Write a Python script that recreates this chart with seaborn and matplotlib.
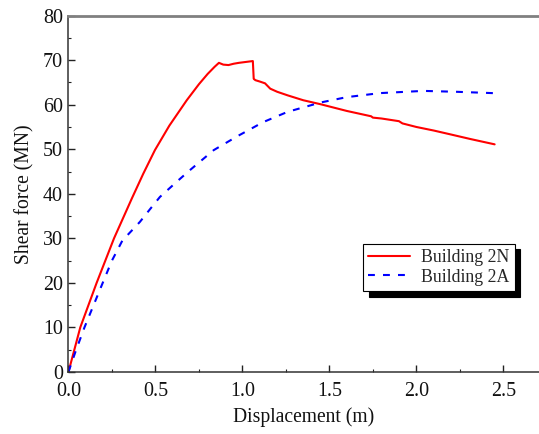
import numpy as np
import pandas as pd
import matplotlib
matplotlib.use('Agg')
import matplotlib.pyplot as plt
import seaborn as sns
from matplotlib.ticker import MultipleLocator, FormatStrFormatter

# ---------------- data ----------------
disp_2n = [0, 0.068, 0.162, 0.262, 0.365, 0.43, 0.497, 0.58, 0.68, 0.75,
           0.80, 0.84, 0.865, 0.89, 0.92, 0.95, 0.98, 1.02, 1.06, 1.065, 1.075,
           1.10, 1.13, 1.16, 1.20, 1.26, 1.35, 1.45, 1.60, 1.74, 1.75, 1.80,
           1.90, 1.92, 2.00, 2.10, 2.20, 2.31, 2.45]
force_2n = [0, 10, 20, 30, 39.0, 44.5, 49.8, 55.3, 61.0, 64.6,
            66.9, 68.5, 69.4, 69.0, 68.9, 69.2, 69.4, 69.6, 69.8, 65.8, 65.5,
            65.2, 64.8, 63.6, 62.9, 62.1, 61.0, 60.1, 58.6, 57.4, 57.1, 56.9,
            56.3, 55.8, 55.0, 54.2, 53.3, 52.3, 51.1]

disp_2a = [0, 0.04, 0.092, 0.197, 0.25, 0.31, 0.363, 0.411, 0.468, 0.526,
           0.631, 0.698, 0.835, 0.97, 1.12, 1.26, 1.45, 1.60, 1.79, 2.04,
           2.23, 2.44]
force_2a = [0, 4.5, 10, 20, 25, 29.5, 31.7, 33.7, 36.5, 39.3,
            43.0, 45.3, 49.8, 52.9, 56.1, 58.4, 60.5, 61.7, 62.6, 63.1,
            62.9, 62.6]

labels = ['Building 2N', 'Building 2A']

df = pd.concat([
    pd.DataFrame({'disp': disp_2n, 'force': force_2n, 'building': labels[0]}),
    pd.DataFrame({'disp': disp_2a, 'force': force_2a, 'building': labels[1]}),
], ignore_index=True)

# ---------------- plotting ----------------
sns.set_style('ticks')
plt.rcParams['font.family'] = ['Liberation Serif', 'DejaVu Serif']

fig = plt.figure(figsize=(5.39, 4.34), dpi=100)
ax = fig.add_axes([0.127, 0.143, 0.873, 0.821])

palette = {labels[0]: '#ff0000', labels[1]: '#0000ff'}
dashes = {labels[0]: '', labels[1]: (3.3, 3.9)}

sns.lineplot(data=df, x='disp', y='force', hue='building', style='building',
             palette=palette, dashes=dashes, estimator=None, sort=False,
             linewidth=1.5, ax=ax)

# format axes
ax.set_xlim(0, 2.705)
ax.set_ylim(0, 80)
ax.xaxis.set_major_locator(MultipleLocator(0.5))
ax.xaxis.set_minor_locator(MultipleLocator(0.25))
ax.yaxis.set_major_locator(MultipleLocator(10))
ax.yaxis.set_minor_locator(MultipleLocator(5))
ax.xaxis.set_major_formatter(FormatStrFormatter('%.1f'))
ax.tick_params(which='both', direction='in', top=False, right=False,
               colors='#222222', labelsize=14.4, labelcolor='#111111')
ax.tick_params(which='major', length=5, width=1)
ax.tick_params(which='minor', length=2.5, width=0.8)
ax.tick_params(axis='x', pad=7)
ax.tick_params(axis='y', pad=4)

for side in ['left', 'bottom']:
    ax.spines[side].set_color('#333333')
    ax.spines[side].set_linewidth(1.1)
ax.spines['top'].set_color('#808080')
ax.spines['top'].set_linewidth(2)
ax.spines['right'].set_visible(False)

ax.set_xlabel('Displacement (m)', fontsize=14.1, color='#111111', labelpad=5)
ax.set_ylabel('Shear force (MN)', fontsize=14.1, color='#111111', labelpad=6)

# legend with hard black shadow
handles, lbls = ax.get_legend_handles_labels()
leg = ax.legend(handles, lbls, loc='upper left', bbox_to_anchor=(0.626, 0.36),
                fontsize=12.8, frameon=True, fancybox=False, handlelength=2.35,
                borderpad=0.3, labelspacing=0.15, handletextpad=0.6,
                borderaxespad=0,
                shadow={'ox': 4.1, 'oy': -4.1, 'color': 'black', 'alpha': 1})
leg.get_frame().set_edgecolor('black')
leg.get_frame().set_linewidth(0.8)
leg.get_frame().set_alpha(1)

plt.savefig('out.png', dpi=100)
